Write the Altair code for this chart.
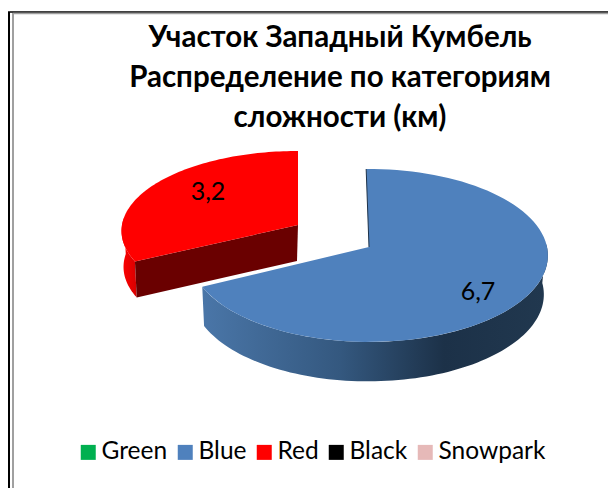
import math
import altair as alt
import pandas as pd

categories = ["Green", "Blue", "Red", "Black", "Snowpark"]
values = [0, 6.7, 3.2, 0, 0]
colors = ["#00b050", "#4f81bd", "#ff0000", "#000000", "#e6b9b8"]
title_lines = ["Участок Западный Кумбель", "Распределение по категориям", "сложности (км)"]
value_labels = ["6,7", "3,2"]

FONT = "Lato"
W, H = 600, 480
total = sum(values)
blue_sweep = values[1] / total * 360


def pt(g, deg, r=1.0):
    a = math.radians(deg)
    w = 1 + g["p"] * math.cos(a) * r
    return (g["cx"] + g["rx"] * r * math.sin(a) / w, g["cy"] - g["ry"] * r * math.cos(a) / w)


def arc(g, a0, a1, n=90):
    return [pt(g, a0 + (a1 - a0) * i / n) for i in range(n + 1)]


blue_top = dict(cx=369, cy=247, rx=178, ry=85.6, p=0.098)
blue_bot = dict(cx=368, cy=286, rx=175, ry=86, p=0.098)
red_top = dict(cx=298, cy=225, rx=176, ry=79.5, p=0.074)
red_bot = dict(cx=297, cy=261, rx=173, ry=79.5, p=0.074)

rows = []


def poly(name, pts):
    for i, (x, y) in enumerate(pts):
        rows.append(dict(part=name, i=i, x=x, y=y))


poly("red_side", arc(red_top, blue_sweep, 275) + arc(red_bot, blue_sweep, 275)[::-1])
poly("red_cut", [pt(red_top, 0, 0), pt(red_top, blue_sweep), pt(red_bot, blue_sweep), pt(red_bot, 0, 0)])
poly("red_face", [pt(red_top, 0, 0)] + arc(red_top, blue_sweep, 360))
poly("blue_side", arc(blue_top, 88, blue_sweep) + arc(blue_bot, 88, blue_sweep)[::-1])
poly("blue_face", [pt(blue_top, 0, 0)] + arc(blue_top, -1, blue_sweep))
poly("blue_edge", [pt(blue_top, -1), pt(blue_top, 0, 0)])
df = pd.DataFrame(rows)

# Scales are expressed in page pixels: the plot's origin sits at the 8px page margin.
xs = alt.Scale(domain=[8, 8 + W], range=[0, W], nice=False, zero=False)
ys = alt.Scale(domain=[8, 8 + H], range=[0, H], nice=False, zero=False)
X = alt.X("x:Q", scale=xs, axis=None)
Y = alt.Y("y:Q", scale=ys, axis=None)


def shape(part, fill):
    return (
        alt.Chart(df[df.part == part])
        .mark_line(filled=True, fill=fill, stroke=None, strokeWidth=0, clip=False)
        .encode(x=X, y=Y, order="i:Q")
    )


side_gradient = alt.LinearGradient(
    gradient="linear", x1=0, x2=1, y1=0, y2=0,
    stops=[
        alt.GradientStop(offset=0, color="#4a76a8"),
        alt.GradientStop(offset=0.4, color="#34587f"),
        alt.GradientStop(offset=0.7, color="#1c3148"),
        alt.GradientStop(offset=1, color="#21384f"),
    ],
)
red_side_gradient = alt.LinearGradient(
    gradient="linear", x1=0, x2=1, y1=0, y2=0,
    stops=[alt.GradientStop(offset=0, color="#ff0000"), alt.GradientStop(offset=1, color="#d80000")],
)

legend_df = pd.DataFrame({"category": categories, "value": values})
legend_layer = (
    alt.Chart(legend_df)
    .mark_square(size=0, opacity=0)
    .encode(
        color=alt.Color(
            "category:N",
            scale=alt.Scale(domain=categories, range=colors),
            legend=alt.Legend(
                orient="none", legendX=68, legendY=432, direction="horizontal", columns=5, title=None,
                symbolType="square", symbolSize=225, symbolStrokeWidth=0, symbolOpacity=1,
                labelFont=FONT, labelFontSize=24.5, labelColor="#000000", labelOffset=1,
                columnPadding=5, labelLimit=200,
            ),
        )
    )
)

label_df = pd.DataFrame({"text": value_labels, "x": [478, 208], "y": [292, 192]})
label_layer = (
    alt.Chart(label_df)
    .mark_text(font=FONT, fontSize=25, color="#000000")
    .encode(x=X, y=Y, text="text:N")
)

frame_v = pd.DataFrame({"x": [9, 13], "y": [12, 13], "y2": [488, 488], "c": ["#000000", "#a0a0a0"]})
frame_h = pd.DataFrame({"x": [8, 13], "x2": [608, 608], "y": [12, 13.5], "c": ["#000000", "#a0a0a0"]})
frame_layer_v = (
    alt.Chart(frame_v)
    .mark_rule(strokeWidth=2)
    .encode(x=X, y=Y, y2="y2:Q", color=alt.Color("c:N", scale=None))
)
frame_layer_h = (
    alt.Chart(frame_h)
    .mark_rule(strokeWidth=1.5)
    .encode(x=X, x2="x2:Q", y=Y, color=alt.Color("c:N", scale=None))
)
edge_layer = (
    alt.Chart(df[df.part == "blue_edge"])
    .mark_line(color="#1c3148", strokeWidth=1)
    .encode(x=X, y=Y, order="i:Q")
)

chart = (
    alt.layer(
        frame_layer_v,
        frame_layer_h,
        shape("red_side", red_side_gradient),
        shape("red_cut", "#6a0000"),
        shape("red_face", "#ff0000"),
        shape("blue_side", side_gradient),
        shape("blue_face", "#4f81bd"),
        edge_layer,
        label_layer,
        legend_layer,
    )
    .resolve_scale(color="independent")
    .properties(
        width=W, height=H, padding=0,
        autosize=alt.AutoSizeParams(type="none"),
        title=alt.TitleParams(
            text=title_lines, font=FONT, fontSize=29.5, fontWeight="bold", color="#000000",
            lineHeight=40, anchor="middle", dx=32, dy=129, baseline="top",
        ),
    )
    .configure_view(stroke=None)
)
chart.save("out.html", embed_options={"renderer": "svg", "actions": False})
